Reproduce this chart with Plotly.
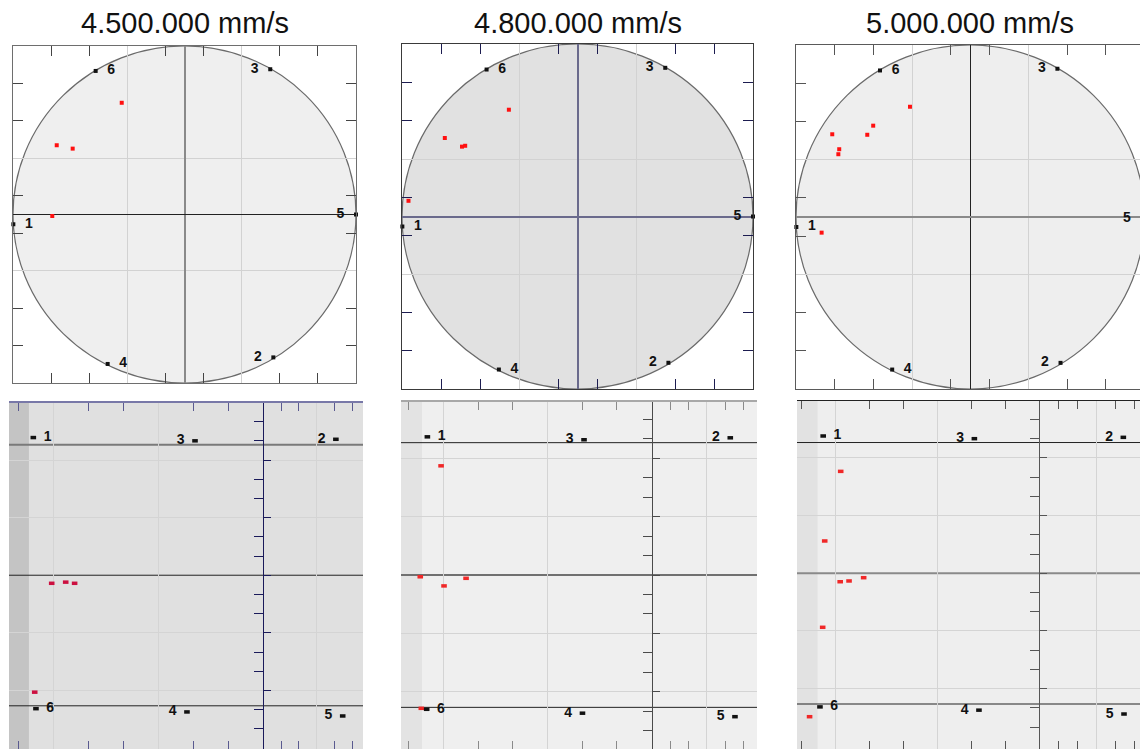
import plotly.graph_objects as go

W, H = 1140, 749

# ---------------------------------------------------------------- data
speed_titles = ["4.500.000 mm/s", "4.800.000 mm/s", "5.000.000 mm/s"]

# sensor positions on the unit circle (same layout for every speed)
sensor_ids = ["1", "2", "3", "4", "5", "6"]
sensor_x = [-0.998, 0.518, 0.500, -0.448, 1.000, -0.518]
sensor_y = [-0.058, -0.848, 0.862, -0.887, 0.000, 0.852]
sensor_side = ["right", "left", "left", "right", "left", "right"]

# impact points, circular view
hits_x_450 = [-0.366, -0.745, -0.652, -0.771]
hits_y_450 = [0.663, 0.411, 0.391, -0.009]
hits_x_480 = [-0.391, -0.756, -0.658, -0.640, -0.963]
hits_y_480 = [0.619, 0.455, 0.405, 0.410, 0.091]
hits_x_500 = [-0.346, -0.557, -0.792, -0.591, -0.752, -0.757, -0.853]
hits_y_500 = [0.641, 0.531, 0.481, 0.478, 0.394, 0.365, -0.091]

# unrolled view: sensor positions (order of sensor_ids)
flat_sx_450 = [-13.14, 4.15, -3.90, -4.36, 4.54, -12.99]
flat_sy_450 = [7.17, 7.08, 7.00, -7.12, -7.33, -6.95]
flat_sx_480 = [-12.93, 4.53, -3.90, -3.99, 4.80, -12.97]
flat_sy_480 = [7.10, 7.05, 6.95, -7.10, -7.28, -6.90]
flat_sx_500 = [-12.71, 4.94, -3.82, -3.55, 4.98, -12.90]
flat_sy_500 = [7.14, 7.07, 7.00, -7.12, -7.32, -6.95]
flat_side = ["right", "left", "left", "left", "left", "right"]

# unrolled view: impact points
flat_hx_450 = [-12.09, -11.29, -10.78, -13.06]
flat_hy_450 = [-0.42, -0.36, -0.42, -6.09]
flat_hx_480 = [-12.14, -13.34, -11.97, -10.70, -13.28]
flat_hy_480 = [5.61, -0.09, -0.56, -0.17, -6.85]
flat_hx_500 = [-11.68, -12.62, -11.71, -11.19, -10.33, -12.74, -13.51]
flat_hy_500 = [5.30, 1.68, -0.44, -0.40, -0.23, -2.81, -7.46]

# reference rows of the unrolled view
row_levels = [6.8, 0.0, -6.8]

# ticks / grid
circle_radius = 1.0
circle_ticks = [-7 / 9, -5 / 9, -1 / 9, 1 / 9, 5 / 9, 7 / 9]
circle_grid = [-1 / 3, 1 / 3]
flat_left_ticks = [-14, -10, -8, -4, -2]
flat_right_ticks = [1, 2, 4, 5]
flat_left_grid = [-12, -6]
flat_right_grid = [3]
spine_major = [-6, -3, 0, 3, 6]
spine_minor = [-8, -7, -5, -4, -2, -1, 1, 2, 4, 5, 7, 8]
flat_grid_rows = [-6, -3, 3, 6]

# ---------------------------------------------------------------- styles
FONT = "Liberation Sans, Arial, sans-serif"
LABEL_FONT = dict(family=FONT, size=14, color="#111111", weight="bold")

top_boxes = [(13, 356, 46, 383), (402, 753, 44, 389), (796, 1140, 45, 389)]
top_xrange = [[-1, 1], [-1, 1], [-1, 0.974]]
top_yrange = [[-1, 1], [-1, 1], [-1, 1]]
circle_fill = ["#efefef", "#e1e1e1", "#eeeeee"]
frame_color = ["#6e6e6e", "#3a3a3a", "#5a5a5a"]
top_tick_color = ["#444444", "#1c1c50", "#555555"]
vcross = [("#8a8a8a", 2), ("#6a6a8c", 2), ("#222222", 1)]
hcross = [("#222222", 1), ("#6a6a8c", 2), ("#8a8a8a", 2)]

flat_boxes = [(9, 363, 403, 749), (401, 757, 402, 749), (797, 1140, 401, 749)]
flat_xrange = [[-14.53, 5.70], [-14.45, 6.07], [-14.25, 5.92]]
flat_yrange = [[-9.05, 8.97], [-8.94, 8.89], [-9.14, 8.96]]
strip_end = [-13.39, -13.24, -13.04]
right_scale = [1.015, 1.06, 1.12]
flat_bg = ["#e0e0e0", "#efefef", "#eeeeee"]
strip_bg = ["#c4c4c4", "#e3e3e3", "#e2e2e2"]
edge_color = ["#7878a8", "#a8a8a8", "#222222"]
edge_width = [2, 2, 1]
flat_tick_color = ["#5a5a90", "#8a8a8a", "#555555"]
spine_color = ["#1a1a5a", "#4a4a4a", "#555555"]
row_styles = [
    [("#7a7a7a", 2), ("#222222", 1), ("#222222", 1)],
    [("#222222", 1), ("#707070", 2), ("#222222", 1)],
    [("#222222", 1), ("#8a8a8a", 2), ("#222222", 1)],
]
hit_color = ["#cc1040", "#f02828", "#f02828"]

hits_top = [(hits_x_450, hits_y_450), (hits_x_480, hits_y_480), (hits_x_500, hits_y_500)]
flat_sensors = [(flat_sx_450, flat_sy_450), (flat_sx_480, flat_sy_480), (flat_sx_500, flat_sy_500)]
flat_hits = [(flat_hx_450, flat_hy_450), (flat_hx_480, flat_hy_480), (flat_hx_500, flat_hy_500)]


def xdom(box):
    return [box[0] / W, box[1] / W]


def ydom(box):
    return [1 - box[3] / H, 1 - box[2] / H]


def side_pos(side):
    return "middle right" if side == "right" else "middle left"


fig = go.Figure()
layout = dict(
    width=W, height=H, margin=dict(l=0, r=0, t=0, b=0),
    paper_bgcolor="white", plot_bgcolor="rgba(0,0,0,0)",
    showlegend=False, font=dict(family=FONT),
)
shapes = []
annotations = []

# ---------------------------------------------------------------- circle views
for i in range(3):
    n = i + 1
    xa = "x" if n == 1 else f"x{n}"
    ya = "y" if n == 1 else f"y{n}"
    xkey = "xaxis" if n == 1 else f"xaxis{n}"
    ykey = "yaxis" if n == 1 else f"yaxis{n}"
    box = top_boxes[i]
    xr = top_xrange[i]
    common = dict(
        showline=True, linecolor=frame_color[i], linewidth=1,
        ticks="inside", ticklen=10, tickwidth=1, tickcolor=top_tick_color[i],
        tickmode="array", showticklabels=False, showgrid=False,
        minor=dict(tickmode="array", tickvals=circle_grid, ticks="",
                   showgrid=True, gridcolor="#d2d2d2", gridwidth=1),
        fixedrange=True,
    )
    layout[xkey] = dict(common, domain=xdom(box), range=xr,
                        tickvals=circle_ticks, mirror="ticks", anchor=ya,
                        zeroline=True, zerolinecolor=vcross[i][0],
                        zerolinewidth=vcross[i][1])
    layout[ykey] = dict(common, domain=ydom(box), range=top_yrange[i],
                        tickvals=circle_ticks,
                        mirror="ticks" if i < 2 else False, anchor=xa,
                        zeroline=True, zerolinecolor=hcross[i][0],
                        zerolinewidth=hcross[i][1])

    shapes.append(dict(type="circle", xref=xa, yref=ya, layer="below",
                       x0=-circle_radius, x1=circle_radius,
                       y0=-circle_radius, y1=circle_radius,
                       fillcolor=circle_fill[i],
                       line=dict(color="#6a6a6a", width=1.2)))

    hx, hy = hits_top[i]
    fig.add_trace(go.Scatter(x=hx, y=hy, mode="markers", xaxis=xa, yaxis=ya,
                             marker=dict(symbol="square", size=4, color="#ff1010",
                                         line=dict(width=0)),
                             cliponaxis=False, hoverinfo="skip"))
    fig.add_trace(go.Scatter(x=sensor_x, y=sensor_y, mode="markers", xaxis=xa, yaxis=ya,
                             marker=dict(symbol="square", size=4, color="#111111",
                                         line=dict(width=0)),
                             cliponaxis=False, hoverinfo="skip"))

    # sensor labels: inside the visible range they ride on a text trace,
    # a sensor just past the cut edge gets its label placed on the paper
    inside = [k for k, x in enumerate(sensor_x) if xr[0] <= x <= xr[1]]
    outside = [k for k, x in enumerate(sensor_x) if not (xr[0] <= x <= xr[1])]
    fig.add_trace(go.Scatter(x=[sensor_x[k] for k in inside],
                             y=[sensor_y[k] for k in inside],
                             mode="markers+text", xaxis=xa, yaxis=ya,
                             text=[sensor_ids[k] for k in inside],
                             textposition=[side_pos(sensor_side[k]) for k in inside],
                             textfont=LABEL_FONT,
                             marker=dict(size=17, color="rgba(0,0,0,0)"),
                             cliponaxis=False, hoverinfo="skip"))
    dom = xdom(box)
    for k in outside:
        frac = (sensor_x[k] - xr[0]) / (xr[1] - xr[0])
        right = sensor_side[k] == "right"
        annotations.append(dict(text=sensor_ids[k], xref="paper", yref=ya,
                                x=dom[0] + frac * (dom[1] - dom[0]), y=sensor_y[k],
                                xanchor="left" if right else "right", yanchor="middle",
                                xshift=12 if right else -12, showarrow=False,
                                font=LABEL_FONT))

    annotations.append(dict(text=speed_titles[i], xref=xa, yref="paper",
                            x=0, y=1 - 22.5 / H, xanchor="center", yanchor="middle",
                            showarrow=False,
                            font=dict(family=FONT, size=29, color="#111111")))

# ---------------------------------------------------------------- unrolled views
for i in range(3):
    n = i + 4
    xa, ya, sa = f"x{n}", f"y{n}", f"y{n + 3}"
    box = flat_boxes[i]
    rs = right_scale[i]
    xr, yr = flat_xrange[i], flat_yrange[i]

    layout[f"xaxis{n}"] = dict(
        domain=xdom(box), range=xr, anchor=ya,
        showline=True, linecolor=edge_color[i], linewidth=edge_width[i], mirror="ticks",
        ticks="inside", ticklen=8, tickwidth=1, tickcolor=flat_tick_color[i],
        tickmode="array",
        tickvals=flat_left_ticks + [t * rs for t in flat_right_ticks],
        showticklabels=False, showgrid=False, zeroline=False,
        minor=dict(tickmode="array",
                   tickvals=flat_left_grid + [g * rs for g in flat_right_grid],
                   ticks="", showgrid=True, gridcolor="#d4d4d4", gridwidth=1),
        fixedrange=True,
    )
    layout[f"yaxis{n}"] = dict(
        domain=ydom(box), range=yr, anchor=xa,
        showline=False, ticks="", showticklabels=False,
        tickmode="array", tickvals=flat_grid_rows,
        showgrid=True, gridcolor="#d4d4d4", gridwidth=1, zeroline=False,
        fixedrange=True,
    )
    # vertical spine at x = 0 carrying its own ticks
    dom = xdom(box)
    spine_pos = dom[0] + (0 - xr[0]) / (xr[1] - xr[0]) * (dom[1] - dom[0])
    layout[f"yaxis{n + 3}"] = dict(
        overlaying=ya, anchor="free", position=spine_pos, side="right",
        range=yr, showline=True, linecolor=spine_color[i], linewidth=1,
        tickmode="array", tickvals=spine_major, ticks="outside", ticklen=7,
        tickwidth=1, tickcolor=spine_color[i], showticklabels=False,
        showgrid=False, zeroline=False,
        minor=dict(tickmode="array", tickvals=spine_minor, ticks="inside",
                   ticklen=9, tickwidth=1, tickcolor=spine_color[i], showgrid=False),
        fixedrange=True,
    )
    fig.add_trace(go.Scatter(x=[], y=[], xaxis=xa, yaxis=sa, hoverinfo="skip"))

    shapes.append(dict(type="rect", xref=f"{xa} domain", yref=f"{ya} domain",
                       x0=0, x1=1, y0=0, y1=1, layer="below",
                       fillcolor=flat_bg[i], line=dict(width=0)))
    shapes.append(dict(type="rect", xref=xa, yref=f"{ya} domain",
                       x0=xr[0], x1=strip_end[i], y0=0, y1=1, layer="below",
                       fillcolor=strip_bg[i], line=dict(width=0)))
    for lvl, (col, wid) in zip(row_levels, row_styles[i]):
        shapes.append(dict(type="line", xref=f"{xa} domain", yref=ya,
                           x0=0, x1=1, y0=lvl, y1=lvl, layer="below",
                           line=dict(color=col, width=wid)))

    hx, hy = flat_hits[i]
    fig.add_trace(go.Scatter(x=hx, y=hy, mode="markers", xaxis=xa, yaxis=ya,
                             marker=dict(symbol="line-ew", size=4,
                                         line=dict(color=hit_color[i], width=3.5)),
                             cliponaxis=False, hoverinfo="skip"))
    sx, sy = flat_sensors[i]
    fig.add_trace(go.Scatter(x=sx, y=sy, mode="markers", xaxis=xa, yaxis=ya,
                             marker=dict(symbol="line-ew", size=4,
                                         line=dict(color="#111111", width=3.5)),
                             cliponaxis=False, hoverinfo="skip"))
    fig.add_trace(go.Scatter(x=sx, y=sy, mode="markers+text", xaxis=xa, yaxis=ya,
                             text=sensor_ids,
                             textposition=[side_pos(s) for s in flat_side],
                             textfont=LABEL_FONT,
                             marker=dict(size=15, color="rgba(0,0,0,0)"),
                             cliponaxis=False, hoverinfo="skip"))

layout["shapes"] = shapes
layout["annotations"] = annotations
fig.update_layout(**layout)

fig.write_html("out.html")
